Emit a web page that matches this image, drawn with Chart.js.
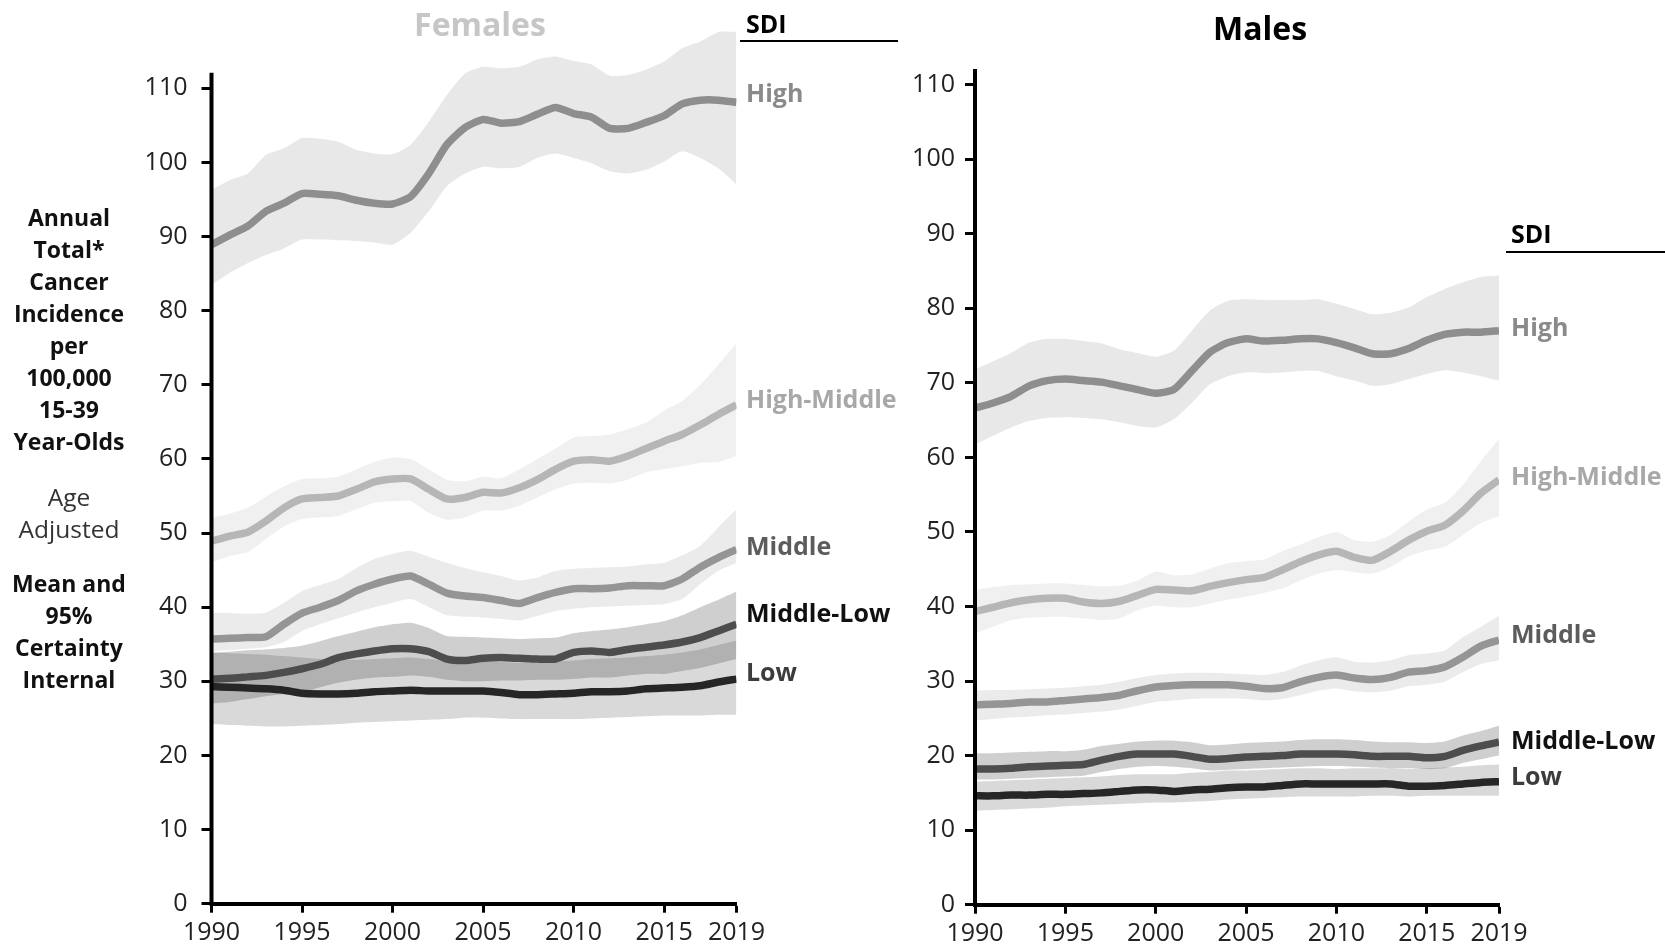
<!DOCTYPE html>
<html>
<head>
<meta charset="utf-8">
<title>Cancer incidence by SDI, ages 15-39</title>
<script src="https://cdn.jsdelivr.net/npm/chart.js@4.4.1/dist/chart.umd.min.js"></script>
<style>
  html, body { margin: 0; padding: 0; background: #fff; }
  body { width: 1665px; height: 944px; position: relative; overflow: hidden; font-family: "Open Sans", "DejaVu Sans", sans-serif; }
  canvas { position: absolute; left: 0; top: 0; }
  .txt { position: absolute; white-space: nowrap; line-height: 1; z-index: 2; }
  .title { font-size: 32px; font-weight: 700; text-align: center; width: 240px; }
  .sdi { font-size: 25px; font-weight: 700; color: #000; }
  .rule { position: absolute; height: 1.5px; background: #000; z-index: 2; }
  .lab { font-size: 25px; font-weight: 700; }
  .side { position: absolute; left: 0; width: 138px; text-align: center; font-size: 23px; line-height: 32px; color: #111; z-index: 2; }
</style>
</head>
<body>
<canvas id="females" width="1665" height="944"></canvas>
<canvas id="males" width="1665" height="944"></canvas>

<div class="txt title" style="left:360px; top:8px; color:#c6c6c6;">Females</div>
<div class="txt title" style="left:1140px; top:12px; color:#000;">Males</div>

<div class="txt sdi" style="left:746px; top:11px;">SDI</div>
<div class="rule" style="left:740px; top:40px; width:158px;"></div>
<div class="txt sdi" style="left:1511px; top:221px;">SDI</div>
<div class="rule" style="left:1506px; top:251px; width:159px;"></div>

<div class="txt lab" style="left:746px; top:80px; color:#8a8a8a;">High</div>
<div class="txt lab" style="left:746px; top:386px; color:#a8a8a8;">High-Middle</div>
<div class="txt lab" style="left:746px; top:533px; color:#5c5c5c;">Middle</div>
<div class="txt lab" style="left:746px; top:600px; color:#111;">Middle-Low</div>
<div class="txt lab" style="left:746px; top:659px; color:#3c3c3c;">Low</div>

<div class="txt lab" style="left:1511px; top:314px; color:#8a8a8a;">High</div>
<div class="txt lab" style="left:1511px; top:463px; color:#a8a8a8;">High-Middle</div>
<div class="txt lab" style="left:1511px; top:621px; color:#5c5c5c;">Middle</div>
<div class="txt lab" style="left:1511px; top:727px; color:#111;">Middle-Low</div>
<div class="txt lab" style="left:1511px; top:763px; color:#3c3c3c;">Low</div>

<div class="side" style="top:201px; font-weight:700;">Annual<br>Total*<br>Cancer<br>Incidence<br>per<br>100,000<br>15-39<br>Year-Olds</div>
<div class="side" style="top:481px; font-weight:400; font-size:24.5px; color:#333;">Age<br>Adjusted</div>
<div class="side" style="top:567px; font-weight:700;">Mean and<br>95%<br>Certainty<br>Internal</div>

<script>
// Years and axis ticks
const YEARS = [1990,1991,1992,1993,1994,1995,1996,1997,1998,1999,2000,2001,2002,2003,2004,
               2005,2006,2007,2008,2009,2010,2011,2012,2013,2014,2015,2016,2017,2018,2019];
const TICK_YEARS = [1990, 1995, 2000, 2005, 2010, 2015, 2019];
const Y_TICKS = [0, 10, 20, 30, 40, 50, 60, 70, 80, 90, 100, 110];

// Females: mean and 95% uncertainty bounds per SDI group
const F_HIGH    = [88.9,90.2,91.4,93.4,94.5,95.8,95.7,95.5,94.9,94.5,94.4,95.4,98.5,102.4,104.7,105.8,105.3,105.5,106.5,107.4,106.6,106.1,104.6,104.6,105.4,106.3,107.9,108.4,108.4,108.1];
const F_HIGH_HI = [96.3,97.6,98.5,101.0,101.9,103.3,103.2,102.8,101.7,101.2,101.1,102.4,105.5,109.1,112.0,112.9,112.7,112.9,113.9,114.3,113.7,113.2,111.7,111.8,112.5,113.6,115.4,116.3,117.6,117.6];
const F_HIGH_LO = [83.5,85.1,86.4,87.5,88.4,89.6,89.6,89.5,89.4,89.2,88.9,90.5,93.4,96.8,98.5,99.4,99.2,99.4,100.6,101.2,100.6,99.9,98.8,98.5,99.0,100.1,101.5,100.6,99.2,97.0];

const F_HM    = [48.9,49.6,50.1,51.6,53.4,54.6,54.8,55.0,55.9,56.9,57.3,57.3,55.9,54.6,54.8,55.5,55.4,56.1,57.2,58.6,59.7,59.9,59.7,60.4,61.4,62.4,63.3,64.6,66.0,67.3];
const F_HM_HI = [52.1,52.6,53.4,54.9,56.3,57.3,57.4,57.6,58.6,59.6,60.2,60.0,58.6,57.2,57.0,57.6,57.4,58.6,60.0,61.4,62.9,63.1,63.3,64.0,64.9,66.5,67.8,70.0,72.7,75.6];
const F_HM_LO = [46.0,46.9,47.4,49.2,50.9,51.9,52.1,52.3,53.2,54.1,54.3,54.3,52.7,51.8,52.1,53.0,53.0,53.7,54.8,55.9,56.7,56.8,56.7,57.2,58.2,58.6,59.0,59.5,59.6,60.4];

const F_MID    = [35.7,35.8,35.9,36.0,37.7,39.2,40.0,40.9,42.2,43.1,43.8,44.2,43.1,41.9,41.5,41.3,40.9,40.5,41.3,42.0,42.5,42.5,42.6,42.9,42.9,42.9,43.8,45.4,46.7,47.8];
const F_MID_HI = [39.3,39.2,39.1,39.3,40.6,42.2,43.0,43.8,45.3,46.5,47.2,47.6,46.8,46.0,45.3,44.7,44.2,43.6,44.0,44.9,45.2,45.3,45.4,45.5,45.8,46.0,47.0,48.3,50.8,53.2];
const F_MID_LO = [34.1,34.2,34.4,34.6,35.3,36.8,37.7,38.5,39.3,40.0,40.6,41.1,40.0,38.9,38.7,38.6,38.4,38.2,38.8,39.5,39.8,40.0,40.1,40.2,40.3,40.4,41.1,43.1,44.9,46.0];

const F_ML    = [30.3,30.4,30.6,30.8,31.2,31.7,32.3,33.2,33.7,34.1,34.4,34.4,34.0,33.0,32.8,33.1,33.2,33.1,33.0,33.0,33.9,34.1,33.9,34.3,34.6,34.9,35.3,35.9,36.8,37.7];
const F_ML_HI = [33.9,34.0,34.2,34.3,34.5,34.8,35.4,36.1,36.7,37.3,37.7,37.9,37.2,36.1,36.0,35.9,35.8,35.7,35.8,35.9,36.5,36.8,37.0,37.3,37.7,38.1,38.9,40.0,41.0,42.1];
const F_ML_LO = [27.0,27.2,27.6,28.0,28.3,28.5,29.2,29.8,30.2,30.5,30.6,30.8,30.6,30.2,30.0,30.0,30.1,30.1,30.2,30.2,30.3,30.5,30.5,30.8,31.0,31.0,31.4,31.8,32.4,33.0];

const F_LOW    = [29.3,29.2,29.1,29.0,28.8,28.4,28.3,28.3,28.4,28.6,28.7,28.8,28.7,28.7,28.7,28.7,28.5,28.2,28.2,28.3,28.4,28.6,28.6,28.7,29.0,29.1,29.2,29.4,29.9,30.3];
const F_LOW_HI = [33.8,33.8,33.7,33.6,33.4,33.2,33.0,32.9,32.9,33.0,33.1,33.2,33.0,32.8,32.7,32.7,32.6,32.5,32.6,32.7,32.8,33.0,33.1,33.2,33.4,33.6,33.9,34.3,34.9,35.5];
const F_LOW_LO = [24.2,24.1,24.0,23.9,23.9,24.0,24.1,24.2,24.4,24.5,24.6,24.7,24.8,24.9,25.1,25.1,25.0,24.9,24.9,24.9,24.9,25.0,25.1,25.2,25.3,25.4,25.4,25.4,25.5,25.5];

// Males: mean and 95% uncertainty bounds per SDI group
const M_HIGH    = [66.6,67.3,68.2,69.6,70.3,70.5,70.3,70.1,69.6,69.1,68.6,69.1,71.6,74.1,75.4,75.9,75.6,75.7,75.9,75.9,75.4,74.7,73.9,73.9,74.6,75.7,76.5,76.8,76.8,77.0];
const M_HIGH_HI = [71.8,72.9,74.0,75.4,75.9,75.9,75.6,75.3,74.5,74.0,73.5,74.3,77.0,79.7,81.0,81.2,81.1,81.1,81.1,81.2,80.6,79.9,79.2,79.4,80.1,81.5,82.6,83.5,84.2,84.4];
const M_HIGH_LO = [61.7,62.9,64.0,64.9,65.3,65.4,65.3,65.1,64.7,64.2,64.0,65.1,67.3,69.8,70.9,71.4,71.3,71.4,71.6,71.6,70.9,70.3,69.6,69.8,70.5,71.2,71.7,71.4,70.9,70.3];

const M_HM    = [39.3,39.9,40.5,40.9,41.1,41.1,40.6,40.4,40.7,41.5,42.3,42.2,42.1,42.7,43.2,43.6,43.9,44.9,46.0,46.9,47.4,46.6,46.2,47.4,48.9,50.1,50.9,52.8,55.2,57.0];
const M_HM_HI = [42.2,42.6,42.9,43.0,43.1,43.1,42.9,42.7,42.8,43.5,44.7,44.2,44.3,45.1,45.8,46.1,46.3,47.4,48.3,49.3,50.0,48.9,48.7,49.6,51.4,53.0,53.9,56.3,59.5,62.5];
const M_HM_LO = [36.4,37.3,38.2,38.5,38.6,38.6,38.4,38.2,38.4,39.5,40.1,39.9,39.9,40.4,40.9,41.3,41.8,42.4,43.5,44.4,44.9,44.6,44.4,45.3,46.7,47.5,48.0,49.6,51.2,52.1];

const M_MID    = [26.8,26.9,27.0,27.2,27.2,27.4,27.6,27.8,28.1,28.7,29.2,29.4,29.5,29.5,29.5,29.3,29.0,29.1,29.9,30.5,30.8,30.4,30.2,30.5,31.2,31.4,31.9,33.2,34.7,35.5];
const M_MID_HI = [28.7,28.8,28.8,28.9,29.0,29.1,29.3,29.5,29.9,30.4,30.8,31.0,31.1,31.1,31.0,30.9,30.8,31.2,32.1,32.8,33.2,32.6,32.5,32.8,33.5,33.7,34.1,35.9,37.3,38.8];
const M_MID_LO = [24.7,24.9,25.1,25.2,25.4,25.5,25.7,25.9,26.2,26.7,27.2,27.4,27.6,27.7,27.7,27.6,27.4,27.6,28.1,28.7,29.0,28.6,28.5,28.7,29.3,29.5,29.9,31.2,32.3,32.8];

const M_ML    = [18.2,18.2,18.3,18.5,18.6,18.7,18.8,19.4,19.9,20.2,20.2,20.2,19.9,19.5,19.6,19.8,19.9,20.0,20.2,20.2,20.2,20.1,19.9,19.9,19.9,19.7,19.9,20.7,21.3,21.8];
const M_ML_HI = [20.3,20.3,20.4,20.5,20.6,20.6,20.8,21.3,21.6,21.9,22.0,22.0,21.8,21.4,21.5,21.7,21.8,21.9,22.1,22.2,22.2,22.1,21.9,21.8,21.8,21.7,21.9,22.7,23.3,24.0];
const M_ML_LO = [16.8,16.8,16.9,17.0,17.1,17.2,17.3,17.8,18.2,18.5,18.6,18.5,18.3,18.0,18.1,18.2,18.3,18.4,18.5,18.6,18.6,18.5,18.4,18.3,18.3,18.2,18.3,19.0,19.5,20.0];

const M_LOW    = [14.6,14.6,14.7,14.7,14.8,14.8,14.9,15.0,15.2,15.4,15.4,15.2,15.4,15.5,15.7,15.8,15.8,16.0,16.2,16.2,16.2,16.2,16.2,16.2,15.9,15.9,16.0,16.2,16.4,16.5];
const M_LOW_HI = [16.5,16.6,16.7,16.8,16.9,17.0,17.1,17.2,17.4,17.5,17.5,17.5,17.7,17.8,18.0,18.0,18.1,18.2,18.3,18.3,18.2,18.3,18.3,18.3,18.2,18.3,18.4,18.5,18.7,18.8];
const M_LOW_LO = [12.6,12.7,12.8,12.9,13.0,13.2,13.3,13.4,13.5,13.6,13.7,13.7,13.8,13.9,14.1,14.2,14.3,14.4,14.5,14.5,14.5,14.5,14.6,14.6,14.5,14.6,14.6,14.6,14.6,14.6];

// Styling per SDI group (line colour, uncertainty band fill)
const STYLE = {
  low:     { line: '#262626', band: 'rgba(0,0,0,0.15)' },
  midLow:  { line: '#4d4d4d', band: 'rgba(0,0,0,0.19)' },
  middle:  { line: '#959595', band: 'rgba(0,0,0,0.08)' },
  highMid: { line: '#b6b6b6', band: 'rgba(0,0,0,0.06)' },
  high:    { line: '#8e8e8e', band: 'rgba(0,0,0,0.09)' }
};

const FEMALES = [
  { style: STYLE.low,     mean: F_LOW,  hi: F_LOW_HI,  lo: F_LOW_LO },
  { style: STYLE.midLow,  mean: F_ML,   hi: F_ML_HI,   lo: F_ML_LO },
  { style: STYLE.middle,  mean: F_MID,  hi: F_MID_HI,  lo: F_MID_LO },
  { style: STYLE.highMid, mean: F_HM,   hi: F_HM_HI,   lo: F_HM_LO },
  { style: STYLE.high,    mean: F_HIGH, hi: F_HIGH_HI, lo: F_HIGH_LO }
];
const MALES = [
  { style: STYLE.low,     mean: M_LOW,  hi: M_LOW_HI,  lo: M_LOW_LO },
  { style: STYLE.midLow,  mean: M_ML,   hi: M_ML_HI,   lo: M_ML_LO },
  { style: STYLE.middle,  mean: M_MID,  hi: M_MID_HI,  lo: M_MID_LO },
  { style: STYLE.highMid, mean: M_HM,   hi: M_HM_HI,   lo: M_HM_LO },
  { style: STYLE.high,    mean: M_HIGH, hi: M_HIGH_HI, lo: M_HIGH_LO }
];

const points = arr => YEARS.map((yr, i) => ({ x: yr, y: arr[i] }));

// Vertical axis line that stops a little above the top tick
const axisLine = {
  id: 'axisLine',
  afterDraw(chart, args, opts) {
    const { ctx, chartArea } = chart;
    const ys = chart.scales.y;
    ctx.save();
    ctx.strokeStyle = '#000';
    ctx.lineWidth = 4;
    ctx.beginPath();
    ctx.moveTo(chartArea.left, ys.getPixelForValue(0) + 2);
    ctx.lineTo(chartArea.left, ys.getPixelForValue(opts.top));
    ctx.stroke();
    ctx.restore();
  }
};

function buildChart(id, groups, frame) {
  const datasets = [];
  groups.forEach(g => {
    datasets.push({
      data: points(g.mean), borderColor: g.style.line, borderWidth: 7.5,
      pointRadius: 0, fill: false, tension: 0.2, order: 1, borderCapStyle: 'butt'
    });
  });
  groups.forEach(g => {
    const idx = datasets.length;
    datasets.push({
      data: points(g.hi), borderColor: 'rgba(0,0,0,0)', borderWidth: 0, pointRadius: 0,
      backgroundColor: g.style.band, fill: idx + 1, tension: 0.2, order: 2
    });
    datasets.push({
      data: points(g.lo), borderColor: 'rgba(0,0,0,0)', borderWidth: 0, pointRadius: 0,
      fill: false, tension: 0.2, order: 2
    });
  });

  const tickFont = { family: 'Open Sans', size: 25, weight: '400' };
  return new Chart(document.getElementById(id), {
    type: 'line',
    data: { datasets },
    plugins: [axisLine],
    options: {
      responsive: false,
      animation: false,
      devicePixelRatio: 1,
      layout: { padding: frame.padding },
      plugins: {
        legend: { display: false },
        tooltip: { enabled: false },
        axisLine: { top: 112.1 }
      },
      scales: {
        x: {
          type: 'linear', min: 1990, max: 2019, offset: false,
          afterBuildTicks: sc => { sc.ticks = TICK_YEARS.map(v => ({ value: v })); },
          afterFit: sc => { sc.height = frame.xAxisH; },
          grid: { display: true, drawOnChartArea: false, drawTicks: true, tickLength: 9, tickWidth: 3, tickColor: '#000' },
          border: { display: true, color: '#000', width: 4 },
          ticks: { autoSkip: false, maxRotation: 0, minRotation: 0, padding: 5, color: '#222', font: tickFont,
                   callback: v => String(v) }
        },
        y: {
          type: 'linear', min: 0, max: 118,
          afterBuildTicks: sc => { sc.ticks = Y_TICKS.map(v => ({ value: v })); },
          afterFit: sc => { sc.width = frame.yAxisW; },
          grid: { display: true, drawOnChartArea: false, drawTicks: true, tickLength: 10, tickWidth: 3, tickColor: '#000' },
          border: { display: false },
          ticks: { padding: frame.yPad, color: '#222', font: tickFont, callback: v => String(v) }
        }
      }
    }
  });
}

buildChart('females', FEMALES, {
  padding: { left: 0, top: 20.8, right: 928.5, bottom: 0 },
  yAxisW: 211.5, xAxisH: 40.3, yPad: 14
});
buildChart('males', MALES, {
  padding: { left: 875, top: 20.9, right: 166, bottom: 0 },
  yAxisW: 100, xAxisH: 39.3, yPad: 10
});
</script>
</body>
</html>
